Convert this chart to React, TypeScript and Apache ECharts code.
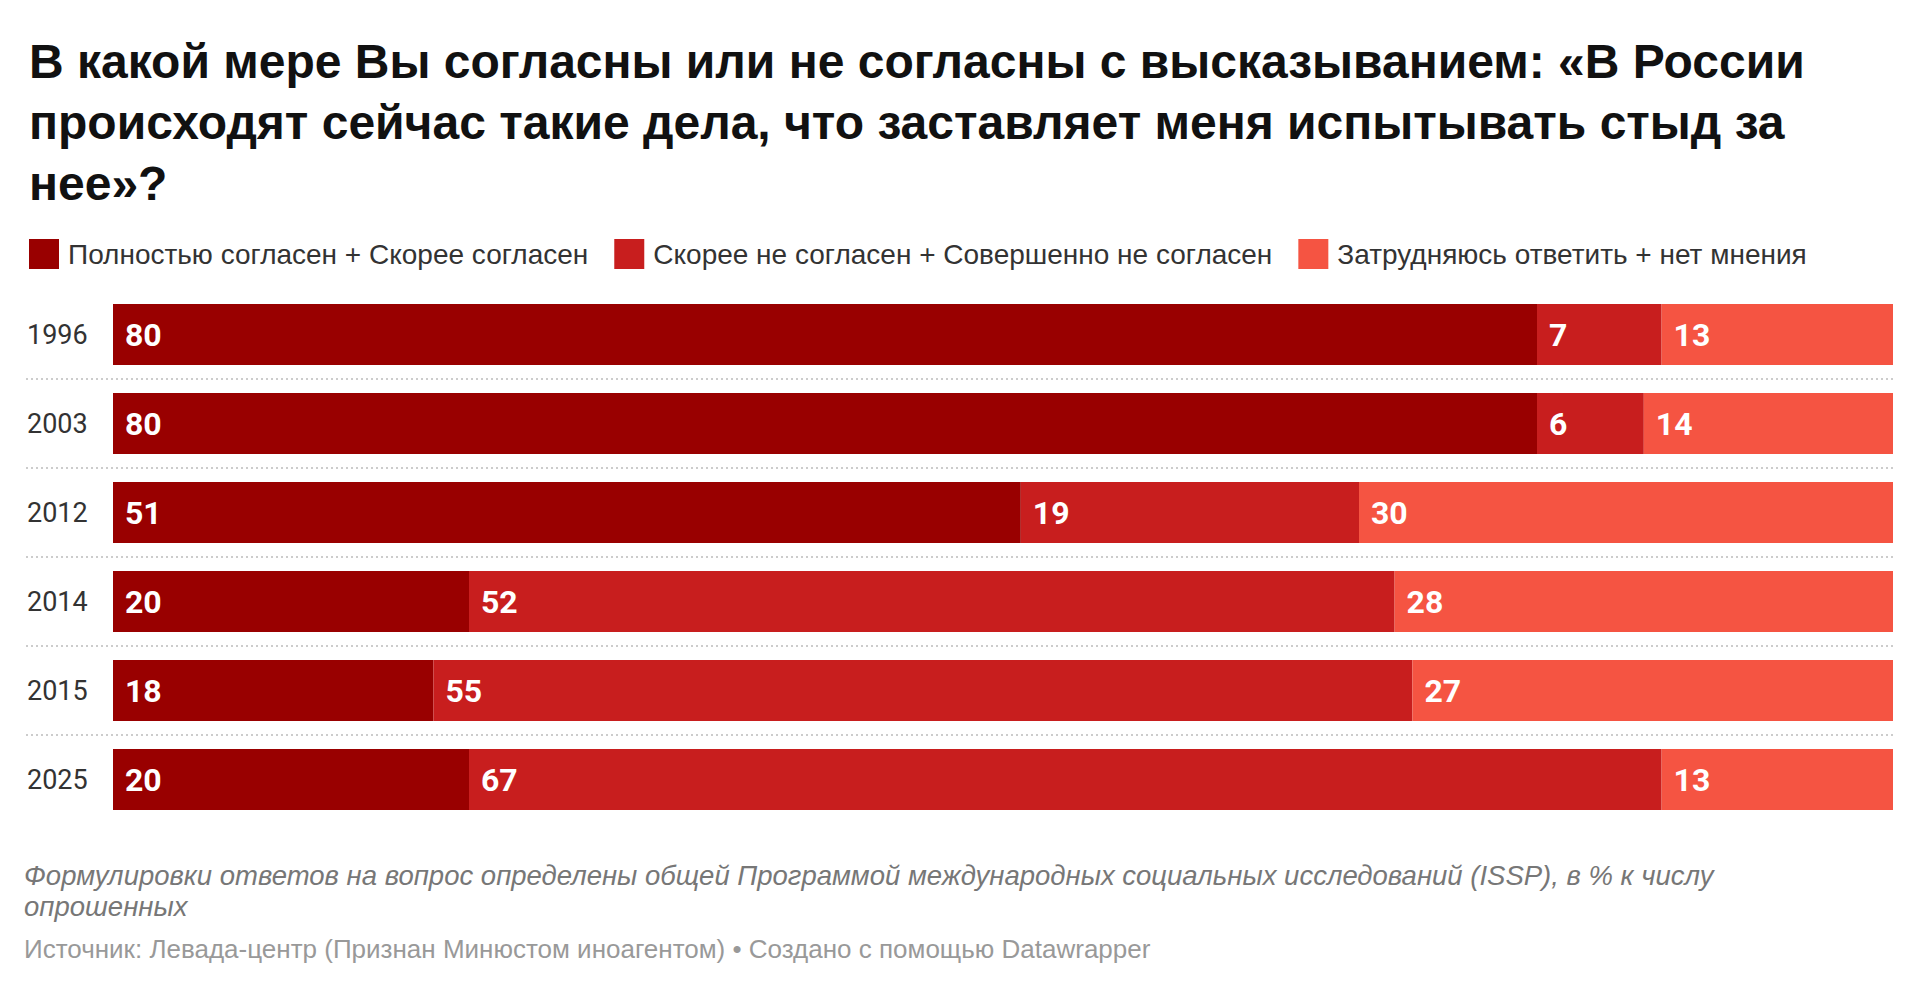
import React, { useEffect, useRef } from "react";
import * as echarts from "echarts";

// Survey years (rows, top to bottom)
const years = ["1996", "2003", "2012", "2014", "2015", "2025"];

// Answer groups, in % of respondents
const seriesNames = [
  "Полностью согласен + Скорее согласен",
  "Скорее не согласен + Совершенно не согласен",
  "Затрудняюсь ответить + нет мнения",
];
const agree = [80, 80, 51, 20, 18, 20];
const disagree = [7, 6, 19, 52, 55, 67];
const undecided = [13, 14, 30, 28, 27, 13];

const colors = ["#990000", "#c81e1e", "#f55442"];

const titleText =
  "В какой мере Вы согласны или не согласны с высказыванием: «В России\nпроисходят сейчас такие дела, что заставляет меня испытывать стыд за\nнее»?";
const noteText =
  "Формулировки ответов на вопрос определены общей Программой международных социальных исследований (ISSP), в % к числу\nопрошенных";
const sourceText =
  "Источник: Левада-центр (Признан Минюстом иноагентом) • Создано с помощью Datawrapper";

const FONT = "'Liberation Sans', Arial, sans-serif";

export default function App() {
  const ref = useRef<HTMLDivElement>(null);

  useEffect(() => {
    if (!ref.current) return;
    const chart = echarts.init(ref.current, null, { renderer: "svg" });

    const values = [agree, disagree, undecided];
    const top = 290;
    const bottom = 165;

    chart.setOption({
      animation: false,
      backgroundColor: "#ffffff",
      title: {
        text: titleText,
        left: 24,
        top: 26,
        textStyle: {
          fontFamily: FONT,
          fontWeight: "bold",
          fontSize: 48,
          lineHeight: 61,
          color: "#111111",
        },
      },
      legend: {
        left: 24,
        top: 234,
        itemWidth: 30,
        itemHeight: 30,
        itemGap: 26,
        icon: "rect",
        data: seriesNames,
        selectedMode: false,
        textStyle: {
          fontFamily: FONT,
          fontSize: 28,
          color: "#333333",
          padding: [0, 0, 0, 4],
        },
      },
      grid: [
        { left: 113, right: 27, top, bottom },
        { left: 26, right: 27, top, bottom },
      ],
      xAxis: [
        {
          type: "value",
          gridIndex: 0,
          min: 0,
          max: 100,
          show: false,
        },
        {
          type: "value",
          gridIndex: 1,
          min: 0,
          max: 100,
          show: false,
        },
      ],
      yAxis: [
        {
          type: "category",
          gridIndex: 0,
          data: years,
          inverse: true,
          axisLine: { show: false },
          axisTick: { show: false },
          splitLine: { show: false },
          axisLabel: {
            align: "left",
            margin: 86,
            fontFamily: "Roboto, sans-serif",
            fontSize: 27,
            color: "#333333",
          },
        },
        {
          // separators between the rows
          type: "category",
          gridIndex: 1,
          data: years,
          inverse: true,
          axisLine: { show: false },
          axisTick: { show: false },
          axisLabel: { show: false },
          splitLine: {
            show: true,
            showMinLine: false,
            showMaxLine: false,
            lineStyle: { color: "#cccccc", width: 2, type: [2, 3] },
          },
        },
      ],
      series: seriesNames.map((name, i) => ({
        name,
        type: "bar",
        stack: "total",
        xAxisIndex: 0,
        yAxisIndex: 0,
        barCategoryGap: "31.5%",
        data: values[i],
        itemStyle: { color: colors[i] },
        label: {
          show: true,
          position: "insideLeft",
          distance: 12,
          color: "#ffffff",
          fontFamily: "Roboto, sans-serif",
          fontWeight: "bold",
          fontSize: 32,
        },
      })),
      graphic: [
        {
          type: "text",
          left: 24,
          top: 860,
          style: {
            text: noteText,
            fontFamily: FONT,
            fontStyle: "italic",
            fontSize: 27.5,
            lineHeight: 31,
            fill: "#777777",
          },
        },
        {
          type: "text",
          left: 24,
          top: 936,
          style: {
            text: sourceText,
            fontFamily: FONT,
            fontSize: 26,
            fill: "#999999",
          },
        },
      ],
    });

    return () => chart.dispose();
  }, []);

  return (
    <div
      ref={ref}
      style={{ position: "fixed", left: 0, top: 0, width: 1920, height: 989 }}
    />
  );
}
